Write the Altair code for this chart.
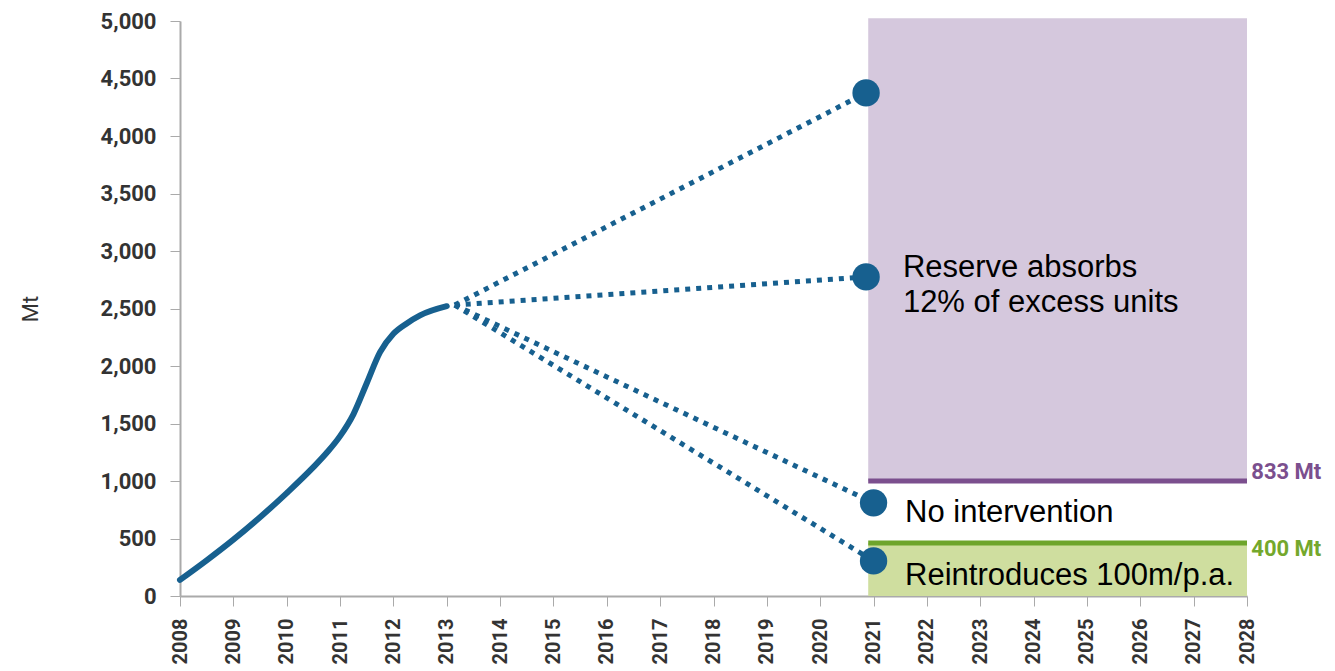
import altair as alt
import pandas as pd

# historical surplus (solid line)
hist_years = [2008, 2008.5, 2009, 2009.5, 2010, 2010.5, 2010.75, 2011, 2011.25, 2011.5, 2011.75, 2012, 2012.25, 2012.5, 2013]
hist_values = [140, 310, 490, 685, 895, 1120, 1245, 1390, 1580, 1850, 2120, 2280, 2370, 2440, 2520]

# scenarios (dotted lines from 2013 to 2021)
scen_names = ["A", "Reserve absorbs 12% of excess units", "No intervention", "Reintroduces 100m/p.a."]
scen_start_year = 2013.15
scen_start_value = 2530
scen_end_years = [2020.86, 2020.86, 2021.0, 2021.0]
scen_end_values = [4375, 2775, 810, 305]

# shaded zones
zone_x0 = 2020.9
zone_x1 = 2028
purple_low, purple_high = 1000, 5025
green_low, green_high = 0, 460

# annotations
ann_text = ["Reserve absorbs", "12% of excess units", "No intervention", "Reintroduces 100m/p.a."]
ann_x = [2021.55, 2021.55, 2021.59, 2021.59]
ann_y = [2850, 2545, 722, 176]

lvl_text = ["833 Mt", "400 Mt"]
lvl_y = [1075, 410]
lvl_color = ["#7b4f8e", "#74a82c"]

BLUE = "#17608f"
x_scale = alt.Scale(domain=[2008, 2028], nice=False, zero=False)
y_scale = alt.Scale(domain=[0, 5000], nice=False)

hist_df = pd.DataFrame({"year": hist_years, "value": hist_values})
rows = []
for n, ey, ev in zip(scen_names, scen_end_years, scen_end_values):
    rows.append({"s": n, "year": scen_start_year, "value": scen_start_value, "o": 0})
    rows.append({"s": n, "year": ey, "value": ev, "o": 1})
scen_df = pd.DataFrame(rows)
end_df = pd.DataFrame({"year": scen_end_years, "value": scen_end_values})

zones_df = pd.DataFrame({
    "x0": [zone_x0, zone_x0], "x1": [zone_x1, zone_x1],
    "y0": [purple_low, green_low], "y1": [purple_high, green_high],
    "c": ["#d5c8dd", "#cfde9f"],
})
lines_df = pd.DataFrame({
    "x0": [zone_x0, zone_x0], "x1": [zone_x1, zone_x1],
    "y": [purple_low, green_high], "c": ["#7b4f8e", "#6ea52b"],
})
ann_df = pd.DataFrame({"t": ann_text, "x": ann_x, "y": ann_y})
lvl_df = pd.DataFrame({"t": lvl_text, "x": [2028.08, 2028.08], "y": lvl_y, "c": lvl_color})

xax = alt.Axis(values=list(range(2008, 2029)), format="d", labelAngle=270, labelAlign="right",
               labelBaseline="middle", labelFontSize=20, labelFontWeight="bold",
               labelFont="Roboto", labelColor="#333333", labelPadding=12,
               tickSize=10, tickColor="#aaaaaa", domainColor="#aaaaaa", domainWidth=2,
               grid=False, title=None, labelOverlap=False)
yax = alt.Axis(values=list(range(0, 5001, 500)), format=",.0f", labelFontSize=22, labelFontWeight="bold",
               labelFont="Roboto", labelColor="#333333", labelPadding=14,
               tickSize=10, tickColor="#aaaaaa", domainColor="#aaaaaa", domainWidth=2,
               grid=False, title="Mt", titleFontSize=22, titleFontWeight="normal",
               titleFont="Roboto", titleColor="#333333", titlePadding=58)


def X(field):
    return alt.X(field, scale=x_scale, axis=xax)


def Y(field):
    return alt.Y(field, scale=y_scale, axis=yax)


zones = alt.Chart(zones_df).mark_rect().encode(
    x=X("x0:Q"), x2="x1:Q", y=Y("y0:Q"), y2="y1:Q",
    color=alt.Color("c:N", scale=None),
)
zlines = alt.Chart(lines_df).mark_rule(strokeWidth=5).encode(
    x=X("x0:Q"), x2="x1:Q", y=Y("y:Q"), color=alt.Color("c:N", scale=None),
)
hist = alt.Chart(hist_df).mark_line(color=BLUE, strokeWidth=6, interpolate="monotone", strokeCap="round").encode(
    x=X("year:Q"), y=Y("value:Q"),
)
scen = alt.Chart(scen_df).mark_line(color=BLUE, strokeWidth=5, strokeDash=[5, 6]).encode(
    x=X("year:Q"), y=Y("value:Q"), detail="s:N", order="o:Q",
)
dots = alt.Chart(end_df).mark_circle(color=BLUE, opacity=1, size=750).encode(
    x=X("year:Q"), y=Y("value:Q"),
)
ann = alt.Chart(ann_df).mark_text(align="left", baseline="middle", fontSize=31,
                                  font="Liberation Sans", color="black").encode(
    x=X("x:Q"), y=Y("y:Q"), text="t:N",
)
lvl = alt.Chart(lvl_df).mark_text(align="left", baseline="middle", fontSize=22, fontWeight="bold",
                                  font="Roboto").encode(
    x=X("x:Q"), y=Y("y:Q"), text="t:N",
    color=alt.Color("c:N", scale=None),
)

chart = alt.layer(zones, zlines, hist, scen, dots, ann, lvl).properties(
    width=1067, height=575,
    autosize=alt.AutoSizeParams(type="none"),
    padding={"left": 172, "top": 13, "right": 80, "bottom": 70},
).configure_view(stroke=None)

chart.save("out.html", embed_options={"renderer": "svg", "actions": False})
